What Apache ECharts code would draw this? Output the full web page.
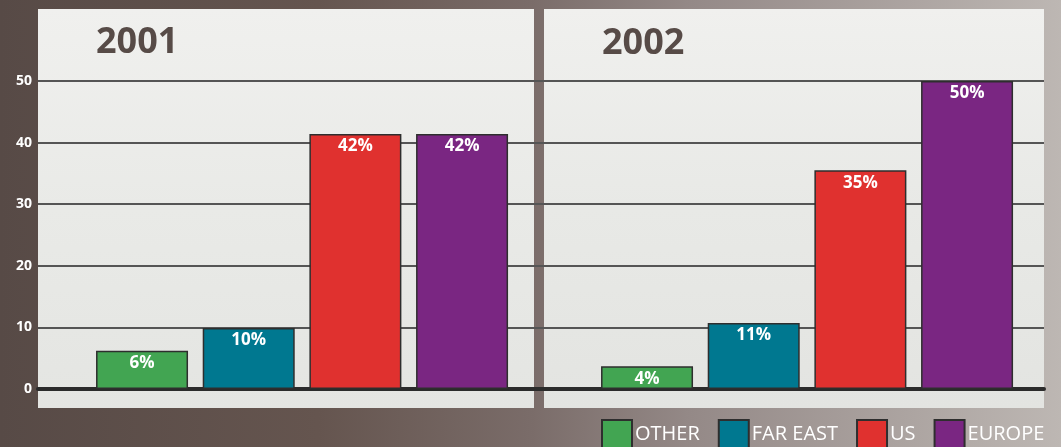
<!DOCTYPE html>
<html>
<head>
<meta charset="utf-8">
<script src="https://cdn.jsdelivr.net/npm/echarts@6/dist/echarts.min.js"></script>
<style>
  html, body { margin: 0; padding: 0; }
  #chart {
    width: 1061px; height: 447px;
    background: linear-gradient(90deg, #574a46 0%, #65554f 30%, #7a6c69 50%, #948987 65%, #bdb7b3 100%);
  }
</style>
</head>
<body>
<div id="chart"></div>
<script>
// regions (legend order)
const regions = ['OTHER', 'FAR EAST', 'US', 'EUROPE'];
const regionColors = ['#42a552', '#007890', '#e0312f', '#7a2682'];
// bar heights
const values2001 = [6.2, 9.9, 41.4, 41.4];
const values2002 = [3.7, 10.7, 35.5, 50];
// printed labels
const labels2001 = ['6%', '10%', '42%', '42%'];
const labels2002 = ['4%', '11%', '35%', '50%'];
const yTicks = [0, 10, 20, 30, 40, 50];

const chart = echarts.init(document.getElementById('chart'));

function makeSeries(values, labels, gridIdx) {
  return regions.map((name, i) => ({
    name: name,
    type: 'bar',
    xAxisIndex: gridIdx,
    yAxisIndex: gridIdx,
    barWidth: 92,
    barGap: '-100%',
    itemStyle: { color: regionColors[i], borderColor: '#2e2e2e', borderWidth: 1.5 },
    label: {
      show: true,
      position: 'insideTop',
      distance: 4,
      color: '#fff',
      fontFamily: 'Open Sans',
      fontWeight: 'bold',
      fontSize: 17,
      formatter: labels[i]
    },
    data: values.map((v, j) => (j === i ? v : '-'))
  }));
}

const hiddenY = { type: 'value', min: 0, max: 50, show: false };

const option = {
  animation: false,
  textStyle: { fontFamily: 'Open Sans' },
  graphic: {
    elements: [
      { type: 'rect', z: -10, silent: true, shape: { x: 38, y: 9, width: 496, height: 399 },
        style: { fill: new echarts.graphic.LinearGradient(0, 0, 0, 1, [
          { offset: 0, color: '#f0f0ee' }, { offset: 0.5, color: '#e9eae7' }, { offset: 1, color: '#e4e5e2' }]) } },
      { type: 'rect', z: -10, silent: true, shape: { x: 544, y: 9, width: 500, height: 399 },
        style: { fill: new echarts.graphic.LinearGradient(0, 0, 0, 1, [
          { offset: 0, color: '#f0f0ee' }, { offset: 0.5, color: '#e8e9e6' }, { offset: 1, color: '#e3e4e1' }]) } }
    ]
  },
  title: [
    { text: '2001', left: 96, top: 25, padding: 0,
      textStyle: { fontSize: 36, fontWeight: 'bold', color: '#574b47', fontFamily: 'Open Sans' } },
    { text: '2002', left: 602, top: 26, padding: 0,
      textStyle: { fontSize: 36, fontWeight: 'bold', color: '#574b47', fontFamily: 'Open Sans' } }
  ],
  legend: {
    data: regions,
    icon: 'rect',
    left: 601, top: 419,
    itemWidth: 30, itemHeight: 28, itemGap: 18,
    padding: 0,
    textStyle: { color: '#fff', fontSize: 20, fontFamily: 'Open Sans', padding: [0, 0, 0, -2] }
  },
  grid: [
    { left: 38, right: 17, top: 81, height: 308 },
    { left: 88.7, width: 426.7, top: 81, height: 308 },
    { left: 593.7, width: 426.7, top: 81, height: 308 }
  ],
  xAxis: [
    { gridIndex: 0, type: 'value', min: 0, max: 1,
      axisLine: { show: true, lineStyle: { color: '#2b2b2b', width: 4 } },
      axisTick: { show: false }, axisLabel: { show: false }, splitLine: { show: false } },
    { gridIndex: 1, type: 'category', data: regions, show: false },
    { gridIndex: 2, type: 'category', data: regions, show: false }
  ],
  yAxis: [
    { gridIndex: 0, type: 'value', min: yTicks[0], max: yTicks[yTicks.length - 1], interval: 10,
      axisLine: { show: false }, axisTick: { show: false },
      axisLabel: { color: '#fff', fontWeight: 'bold', fontSize: 14, margin: 6, fontFamily: 'Open Sans' },
      splitLine: { lineStyle: { color: '#555', width: 2 } } },
    Object.assign({ gridIndex: 1 }, hiddenY),
    Object.assign({ gridIndex: 2 }, hiddenY)
  ],
  series: makeSeries(values2001, labels2001, 1).concat(makeSeries(values2002, labels2002, 2))
};

chart.setOption(option);
</script>
</body>
</html>
